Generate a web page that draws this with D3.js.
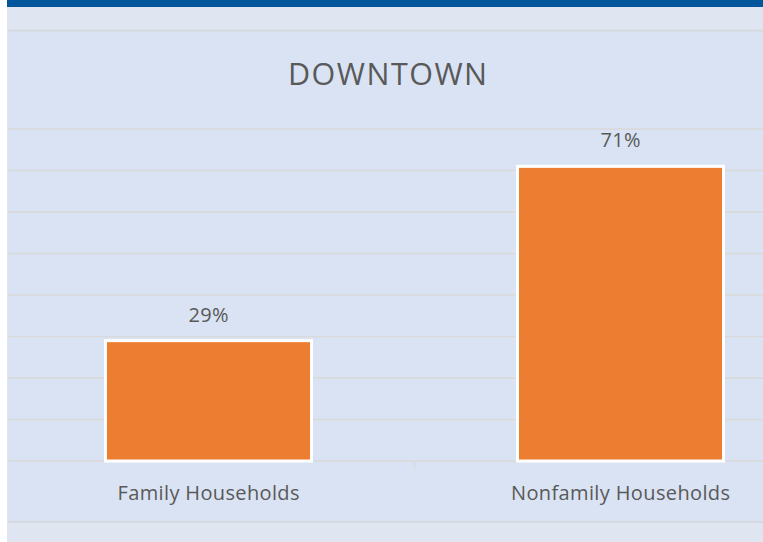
<!DOCTYPE html>
<html>
<head>
<meta charset="utf-8">
<script src="https://cdn.jsdelivr.net/npm/d3@7/dist/d3.min.js"></script>
<style>
  html, body { margin: 0; padding: 0; background: #ffffff; }
  svg { display: block; }
  text { font-family: "Open Sans", "Noto Sans", sans-serif; fill: #595959; }
</style>
</head>
<body>
<script>
const categories = ["Family Households", "Nonfamily Households"];
const values = [29, 71];
const valueLabels = ["29%", "71%"];
const title = "DOWNTOWN";
const yTicks = [0, 10, 20, 30, 40, 50, 60, 70, 80];

const W = 763, H = 542;
const svg = d3.select("body").append("svg").attr("width", W).attr("height", H);

// frame
svg.append("rect").attr("x", 0).attr("y", 0).attr("width", W).attr("height", H).attr("fill", "#ffffff");
svg.append("rect").attr("x", 7).attr("y", 0).attr("width", W - 7).attr("height", H).attr("fill", "#dfe6f2");
svg.append("rect").attr("x", 7).attr("y", 0).attr("width", W - 7).attr("height", 7).attr("fill", "#00559b");
// plot area
svg.append("rect").attr("x", 8).attr("y", 31).attr("width", W - 8).attr("height", 491).attr("fill", "#dae3f3");
svg.append("line").attr("x1", 8).attr("x2", W).attr("y1", 30.5).attr("y2", 30.5).attr("stroke", "#d6d9de").attr("stroke-width", 2);
svg.append("line").attr("x1", 8).attr("x2", W).attr("y1", 522).attr("y2", 522).attr("stroke", "#d6d9de").attr("stroke-width", 2);

const y = d3.scaleLinear().domain([0, 80]).range([461, 129]);
const x = d3.scaleBand().domain(categories).range([2.5, 826.5]).paddingInner(0).paddingOuter(0);

// gridlines
svg.append("g").selectAll("line").data(yTicks).join("line")
  .attr("x1", 8).attr("x2", W)
  .attr("y1", d => y(d)).attr("y2", d => y(d))
  .attr("stroke", "#d9d9d9").attr("stroke-width", 1.5);

// category tick between bands
svg.append("line")
  .attr("x1", x(categories[1])).attr("x2", x(categories[1]))
  .attr("y1", y(0)).attr("y2", y(0) + 7)
  .attr("stroke", "#d9d9d9").attr("stroke-width", 1.5);

const barW = x.bandwidth() * 0.5;
svg.append("g").selectAll("rect").data(values).join("rect")
  .attr("x", (d, i) => x(categories[i]) + x.bandwidth() / 2 - barW / 2)
  .attr("y", d => y(d))
  .attr("width", barW)
  .attr("height", d => y(0) - y(d))
  .attr("fill", "#ed7d31")
  .attr("stroke", "#ffffff").attr("stroke-width", 3);

// value labels
svg.append("g").selectAll("text").data(values).join("text")
  .attr("x", (d, i) => x(categories[i]) + x.bandwidth() / 2)
  .attr("y", d => y(d) - 19)
  .attr("text-anchor", "middle")
  .attr("font-size", 20)
  .attr("textLength", 40).attr("lengthAdjust", "spacing")
  .text((d, i) => valueLabels[i]);

// category labels
const catLen = [182, 219];
svg.append("g").selectAll("text").data(categories).join("text")
  .attr("x", d => x(d) + x.bandwidth() / 2)
  .attr("y", 500)
  .attr("text-anchor", "middle")
  .attr("font-size", 20)
  .attr("textLength", (d, i) => catLen[i]).attr("lengthAdjust", "spacing")
  .text(d => d);

// title
svg.append("text")
  .attr("x", 387.5).attr("y", 85)
  .attr("text-anchor", "middle")
  .attr("font-size", 30.5)
  .attr("textLength", 199).attr("lengthAdjust", "spacing")
  .text(title);
</script>
</body>
</html>
